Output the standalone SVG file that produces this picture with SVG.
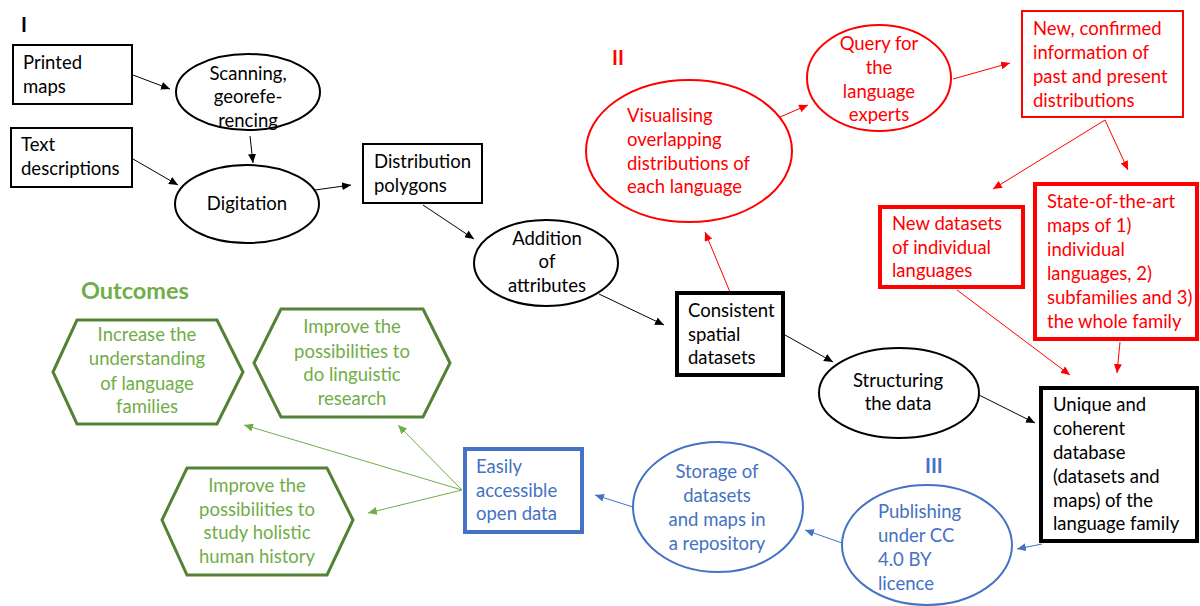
<svg xmlns="http://www.w3.org/2000/svg" width="1200" height="606" viewBox="0 0 1200 606">
<style>
text{font-family:Lato,"Liberation Sans",sans-serif;font-size:18.5px}
.k{fill:#000}
.r{fill:#FF0000}
.b{fill:#4472C4}
.g{fill:#70AD47}
.c{text-anchor:middle}
.h{font-weight:bold}
.sk{fill:#fff;stroke:#000;stroke-width:2}
.skt{fill:#fff;stroke:#000;stroke-width:4}
.sr{fill:#fff;stroke:#FF0000;stroke-width:2}
.srt{fill:#fff;stroke:#FF0000;stroke-width:4}
.sb{fill:#fff;stroke:#4472C4;stroke-width:2}
.sbt{fill:#fff;stroke:#4472C4;stroke-width:4}
.hex{fill:#fff;stroke:#548235;stroke-width:3}
.lk{stroke:#000;stroke-width:1;fill:none;marker-end:url(#ak)}
.lr{stroke:#FF0000;stroke-width:1;fill:none;marker-end:url(#ar)}
.lb{stroke:#4472C4;stroke-width:1;fill:none;marker-end:url(#ab)}
.lg{stroke:#70AD47;stroke-width:1;fill:none;marker-end:url(#ag)}
</style>
<defs>
<marker id="ak" markerUnits="userSpaceOnUse" markerWidth="10" markerHeight="8" refX="9" refY="4" orient="auto"><path d="M0,0 L9,4 L0,8 z" fill="#000"/></marker>
<marker id="ar" markerUnits="userSpaceOnUse" markerWidth="10" markerHeight="8" refX="9" refY="4" orient="auto"><path d="M0,0 L9,4 L0,8 z" fill="#FF0000"/></marker>
<marker id="ab" markerUnits="userSpaceOnUse" markerWidth="10" markerHeight="8" refX="9" refY="4" orient="auto"><path d="M0,0 L9,4 L0,8 z" fill="#4472C4"/></marker>
<marker id="ag" markerUnits="userSpaceOnUse" markerWidth="10" markerHeight="8" refX="9" refY="4" orient="auto"><path d="M0,0 L9,4 L0,8 z" fill="#70AD47"/></marker>
</defs>
<rect width="1200" height="606" fill="#fff"/>

<g id="labels">
<text class="k h" x="21" y="32" style="font-size:20px">I</text>
<text class="r h" x="612" y="65" style="font-size:20px">II</text>
<text class="b h" x="925" y="473" style="font-size:20px">III</text>
<text class="g h" x="81" y="299" style="font-size:23.5px">Outcomes</text>
</g>

<g id="connectors">
<line class="lk" x1="133" y1="75" x2="170" y2="89"/>
<line class="lk" x1="133" y1="159" x2="178" y2="185"/>
<line class="lk" x1="250" y1="136" x2="253" y2="163"/>
<line class="lk" x1="315" y1="190" x2="351" y2="185"/>
<line class="lk" x1="423" y1="205" x2="474" y2="239"/>
<line class="lk" x1="599" y1="294" x2="664" y2="325"/>
<line class="lk" x1="785" y1="335" x2="833" y2="362"/>
<line class="lk" x1="979" y1="395" x2="1035" y2="423"/>
<line class="lr" x1="730" y1="292" x2="705" y2="232"/>
<line class="lr" x1="780" y1="117" x2="808" y2="105"/>
<line class="lr" x1="953" y1="79" x2="1010" y2="63"/>
<line class="lr" x1="1105" y1="120" x2="993" y2="189"/>
<line class="lr" x1="1105" y1="120" x2="1128" y2="170"/>
<line class="lr" x1="957" y1="290" x2="1070" y2="375"/>
<line class="lr" x1="1120" y1="342" x2="1117" y2="373"/>
<line class="lb" x1="1042" y1="544" x2="1017" y2="549"/>
<line class="lb" x1="842" y1="543" x2="805" y2="530"/>
<line class="lb" x1="633" y1="507" x2="595" y2="495"/>
<line class="lg" x1="462" y1="490" x2="244" y2="425"/>
<line class="lg" x1="462" y1="490" x2="398" y2="425"/>
<line class="lg" x1="462" y1="490" x2="368" y2="513"/>
</g>

<g id="printed-maps">
<rect class="sk" x="13" y="45" width="119" height="59"/>
<text class="k" x="23" y="69">Printed</text>
<text class="k" x="23" y="93">maps</text>
</g>
<g id="text-descriptions">
<rect class="sk" x="11" y="128" width="121" height="59"/>
<text class="k" x="21" y="151">Text</text>
<text class="k" x="21" y="175">descriptions</text>
</g>
<g id="scanning">
<ellipse class="sk" cx="248" cy="92" rx="72" ry="38"/>
<text class="k c" x="248" y="80">Scanning,</text>
<text class="k c" x="248" y="103">georefe-</text>
<text class="k c" x="248" y="127">rencing</text>
</g>
<g id="digitation">
<ellipse class="sk" cx="247" cy="204" rx="72" ry="39"/>
<text class="k c" x="247" y="210">Digitation</text>
</g>
<g id="distribution-polygons">
<rect class="sk" x="363" y="144" width="119" height="59"/>
<text class="k" x="374" y="168">Distribution</text>
<text class="k" x="374" y="192">polygons</text>
</g>
<g id="addition">
<ellipse class="sk" cx="546" cy="263" rx="72" ry="43"/>
<text class="k c" x="547" y="245">Addition</text>
<text class="k c" x="547" y="268">of</text>
<text class="k c" x="547" y="292">attributes</text>
</g>
<g id="consistent">
<rect class="skt" x="677" y="293" width="106" height="82"/>
<text class="k" x="688" y="317">Consistent</text>
<text class="k" x="688" y="341">spatial</text>
<text class="k" x="688" y="364">datasets</text>
</g>
<g id="structuring">
<ellipse class="sk" cx="899" cy="393" rx="80" ry="45"/>
<text class="k c" x="898" y="387">Structuring</text>
<text class="k c" x="898" y="410">the data</text>
</g>
<g id="unique">
<rect class="skt" x="1041" y="388" width="156" height="153"/>
<text class="k" x="1053" y="411">Unique and</text>
<text class="k" x="1053" y="435">coherent</text>
<text class="k" x="1053" y="459">database</text>
<text class="k" x="1053" y="483">(datasets and</text>
<text class="k" x="1053" y="507">maps) of the</text>
<text class="k" x="1053" y="530">language family</text>
</g>

<g id="visualising">
<ellipse class="sr" cx="689" cy="151" rx="103" ry="71"/>
<text class="r" x="627" y="122">Visualising</text>
<text class="r" x="627" y="146">overlapping</text>
<text class="r" x="627" y="170">distributions of</text>
<text class="r" x="627" y="193">each language</text>
</g>
<g id="query">
<ellipse class="sr" cx="879" cy="78" rx="72" ry="53"/>
<text class="r c" x="879" y="50">Query for</text>
<text class="r c" x="879" y="74">the</text>
<text class="r c" x="879" y="98">language</text>
<text class="r c" x="879" y="121">experts</text>
</g>
<g id="new-confirmed">
<rect class="sr" x="1022" y="11" width="161" height="106"/>
<text class="r" x="1033" y="35">New, confirmed</text>
<text class="r" x="1033" y="59">information of</text>
<text class="r" x="1033" y="83">past and present</text>
<text class="r" x="1033" y="107">distributions</text>
</g>
<g id="new-datasets">
<rect class="srt" x="880" y="207" width="143" height="80"/>
<text class="r" x="892" y="230">New datasets</text>
<text class="r" x="892" y="254">of individual</text>
<text class="r" x="892" y="277">languages</text>
</g>
<g id="state-of-the-art">
<rect class="srt" x="1035" y="184" width="162" height="155"/>
<text class="r" x="1047" y="208">State-of-the-art</text>
<text class="r" x="1047" y="232">maps of 1)</text>
<text class="r" x="1047" y="256">individual</text>
<text class="r" x="1047" y="280">languages, 2)</text>
<text class="r" x="1047" y="304">subfamilies and 3)</text>
<text class="r" x="1047" y="328">the whole family</text>
</g>

<g id="publishing">
<ellipse class="sb" cx="927" cy="545" rx="85" ry="60"/>
<text class="b" x="878" y="518">Publishing</text>
<text class="b" x="878" y="542">under CC</text>
<text class="b" x="878" y="566">4.0 BY</text>
<text class="b" x="878" y="590">licence</text>
</g>
<g id="storage">
<ellipse class="sb" cx="718" cy="507" rx="85" ry="65"/>
<text class="b c" x="717" y="478">Storage of</text>
<text class="b c" x="717" y="502">datasets</text>
<text class="b c" x="717" y="526">and maps in</text>
<text class="b c" x="717" y="550">a repository</text>
</g>
<g id="easily">
<rect class="sbt" x="465" y="449" width="117" height="83"/>
<text class="b" x="476" y="473">Easily</text>
<text class="b" x="476" y="497">accessible</text>
<text class="b" x="476" y="520">open data</text>
</g>

<g id="hex-understanding">
<polygon class="hex" points="53,372 77,320 217,320 243,372 217,424 77,424"/>
<text class="g c" x="147" y="341">Increase the</text>
<text class="g c" x="147" y="365">understanding</text>
<text class="g c" x="147" y="390">of language</text>
<text class="g c" x="147" y="413">families</text>
</g>
<g id="hex-linguistic">
<polygon class="hex" points="254,363 281,309 423,309 450,363 423,417 281,417"/>
<text class="g c" x="352" y="333">Improve the</text>
<text class="g c" x="352" y="358">possibilities to</text>
<text class="g c" x="352" y="381">do linguistic</text>
<text class="g c" x="352" y="405">research</text>
</g>
<g id="hex-history">
<polygon class="hex" points="162,520 187,468 327,468 353,520 327,575 187,575"/>
<text class="g c" x="257" y="492">Improve the</text>
<text class="g c" x="257" y="516">possibilities to</text>
<text class="g c" x="257" y="539">study holistic</text>
<text class="g c" x="257" y="563">human history</text>
</g>
</svg>
